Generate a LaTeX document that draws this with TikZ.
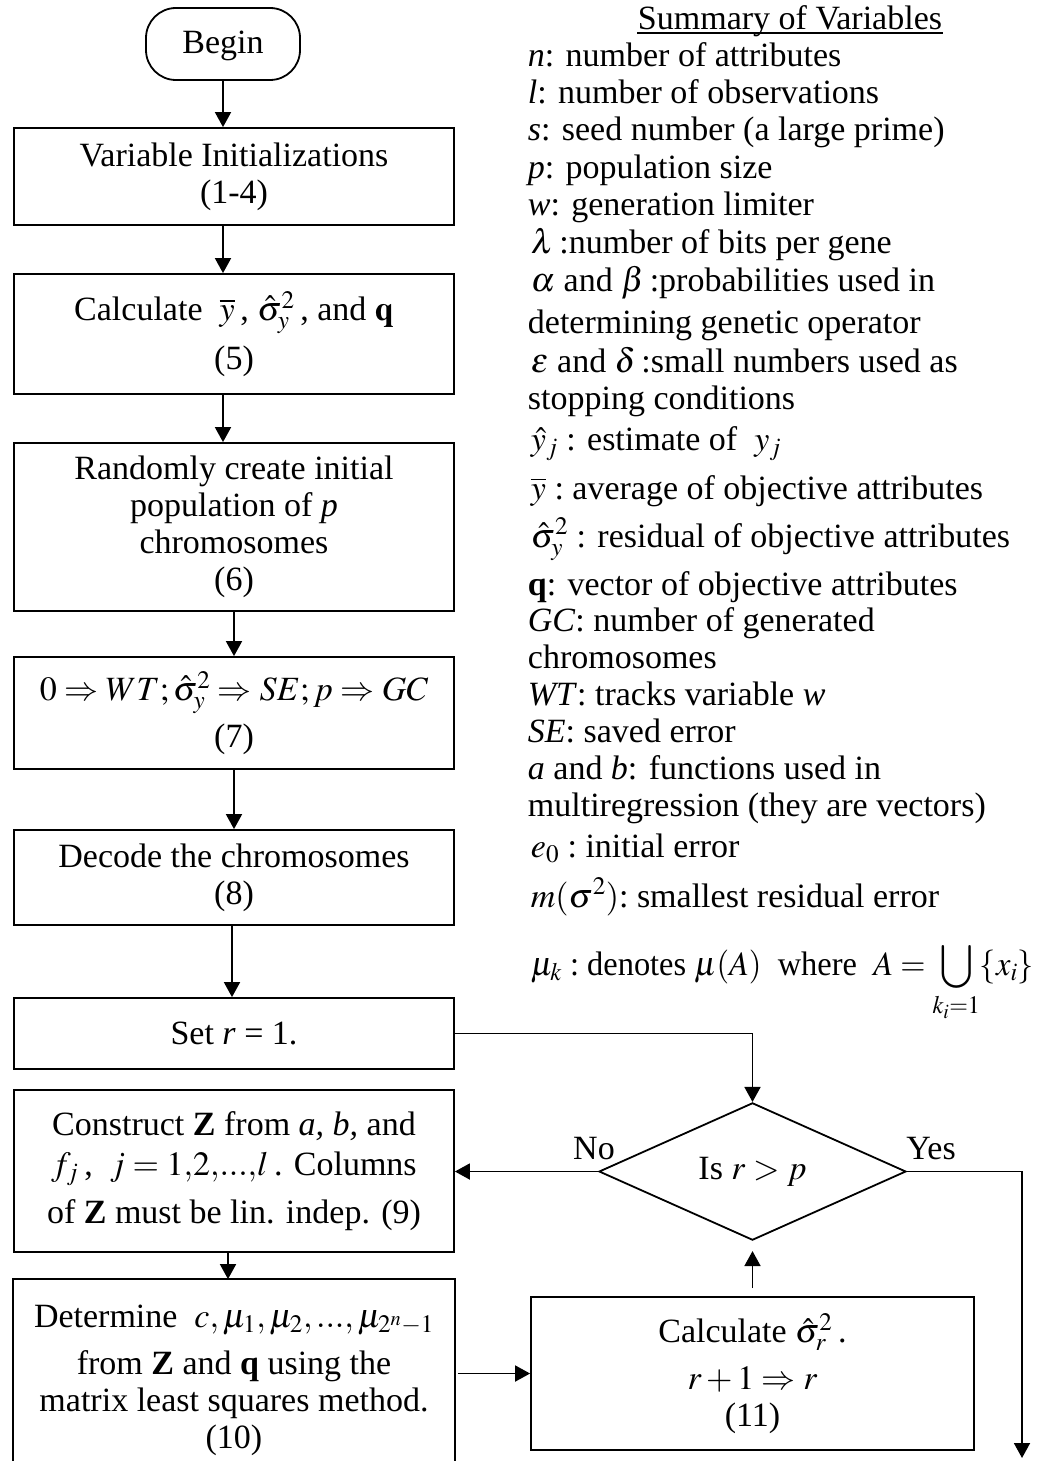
\documentclass[tikz,border=0pt]{standalone}
\usepackage{mathptmx}
\usepackage[no-math]{fontspec}
\setmainfont{Liberation Serif}
\usetikzlibrary{shapes.geometric,arrows.meta}

\begin{document}
\begin{tikzpicture}[x=1pt,y=-1pt,line width=1.8pt,
  font=\fontsize{34}{37}\selectfont,
  box/.style={draw,minimum width=440pt,inner sep=0pt,align=center},
  link/.style={-{Triangle[width=16pt,length=15pt]}},
  note/.style={anchor=base west,inner sep=0pt},
]
\useasboundingbox (0,0) rectangle (1037,1461);
\coordinate (pagebottom) at (0,1461);

% ---- flow chart, left column ----
\node[draw,rounded corners=30pt,minimum width=154pt,minimum height=72pt,inner sep=0pt,text depth=4pt] (begin) at (223,44) {Begin};
\node[box,minimum height=97pt] (init) at (234,176.5) {Variable Initializations\\(1-4)};
\node[box,minimum height=120pt] (stats) at (234,334) {Calculate\ \ $\overline{y}$\,,\ $\hat{\sigma}_y^2$\,, and $\mathbf{q}$\\[11pt](5)};
\node[box,minimum height=168pt] (pop) at (234,527) {Randomly create initial\\population of \textit{p}\\chromosomes\\(6)};
\node[box,minimum height=112pt] (assign) at (234,713) {$0\Rightarrow WT;\hat{\sigma}_y^2\Rightarrow SE;p\Rightarrow GC$\\[9pt](7)};
\node[box,minimum height=95pt] (decode) at (234,877.5) {Decode the chromosomes\\(8)};
\node[box,minimum height=71pt] (setr) at (234,1033.5) {Set \textit{r} = 1.};
\node[box,minimum height=162pt] (build) at (234,1171) {Construct \textbf{Z} from \textit{a, b,} and\\[3pt]$f_j$\,,\ \ $j=1{,}2{,}...{,}l$\,. Columns\\[11pt]of \textbf{Z} must be lin. indep. (9)};
\node[minimum width=440pt,minimum height=200pt,inner sep=0pt,align=center] (lsq) at (234,1380) {Determine\ \ $c,\mu_1,\mu_2,...,\mu_{2^n-1}$\\[10pt]from \textbf{Z} and \textbf{q} using the\\matrix least squares method.\\(10)};
\draw (lsq.north west |- pagebottom) -- (lsq.north west) -- (lsq.north east) -- (lsq.north east |- pagebottom);

% ---- loop on the right ----
\node[draw,shape=diamond,minimum width=307pt,minimum height=121pt,inner sep=0pt] (test) at (752.5,1171.5) {Is $r>p$};
\node[box,minimum width=443pt,minimum height=153pt] (calc) at (752.5,1373.5) {Calculate $\hat{\sigma}_r^2$\,.\\[10pt]$r+1\Rightarrow r$\\(11)};
\coordinate (yesend) at (1022,1458);
\node[inner sep=0pt] (nolabel) at (594,1149) {No};
\node[inner sep=0pt] (yeslabel) at (931,1149) {Yes};

% ---- connectors ----
\draw[link] (begin.south) -- (init.north -| begin.south);
\draw[link] (init.south -| begin.south) -- (stats.north -| begin.south);
\draw[link] (stats.south -| begin.south) -- (pop.north -| begin.south);
\draw[link] (pop.south) -- (assign.north);
\draw[link] (assign.south) -- (decode.north);
\draw[link] ([xshift=-2pt]decode.south) -- ([xshift=-2pt]setr.north);
\draw[link] (setr.east) -| (test.north);
\draw[link] (test.west) -- (test.west -| build.east);
\draw[link] (test.east) -| (yesend);
\draw[link] ([xshift=-6pt]build.south) -- ([xshift=-6pt]lsq.north);
\draw[link,shorten <=3pt] (calc.west -| lsq.east) -- (calc.west);
\draw[link,shorten <=8pt,shorten >=10pt] (calc.north) -- (test.south);

% ---- summary of variables ----
\node[anchor=base,inner sep=0pt] (title) at (790,30) {Summary of Variables};
\draw[line width=1.4pt] ([yshift=-3pt]title.base west) -- ([yshift=-3pt]title.base east);
\node[note] (v1) at (527,67) {\textit{n}: number of attributes};
\node[note] (v2) at (527,104) {\textit{l}: number of observations};
\node[note] (v3) at (527,141) {\textit{s}: seed number (a large prime)};
\node[note] (v4) at (527,178) {\textit{p}: population size};
\node[note] (v5) at (527,215) {\textit{w}: generation limiter};
\node[note] (v6) at (530,253) {$\lambda$\,:number of bits per gene};
\node[note] (v7) at (530,291) {$\alpha$ and $\beta$\,:probabilities used in};
\node[note] (v8) at (527,333) {determining genetic operator};
\node[note] (v9) at (530,372) {$\varepsilon$ and $\delta$\,:small numbers used as};
\node[note] (v10) at (527,409) {stopping conditions};
\node[note] (v11) at (530,450) {$\hat{y}_j$ : estimate of\ \ $y_j$};
\node[note] (v12) at (530,499) {$\overline{y}$ :\ average of objective attributes};
\node[note] (v13) at (530,547) {$\hat{\sigma}_y^2$ : residual of objective attributes};
\node[note] (v14) at (527,595) {\textbf{q}: vector of objective attributes};
\node[note] (v15) at (527,631) {\textit{GC}: number of generated};
\node[note] (v16) at (527,668) {chromosomes};
\node[note] (v17) at (527,705) {\textit{WT}: tracks variable \textit{w}};
\node[note] (v18) at (527,742) {\textit{SE}: saved error};
\node[note] (v19) at (527,779) {\textit{a} and \textit{b}: functions used in};
\node[note] (v20) at (527,816) {multiregression (they are vectors)};
\node[note] (v21) at (530,857) {$e_0$ :\ initial error};
\node[note] (v22) at (530,907) {$m(\sigma^2)$:\ smallest residual error};
\node[note] (v23) at (530,975) {\resizebox{503pt}{\height}{$\mu_k$ :\ denotes $\mu(A)$\ \ where\ \ $A=\displaystyle\bigcup_{k_i=1}\{x_i\}$}};
\end{tikzpicture}
\end{document}
